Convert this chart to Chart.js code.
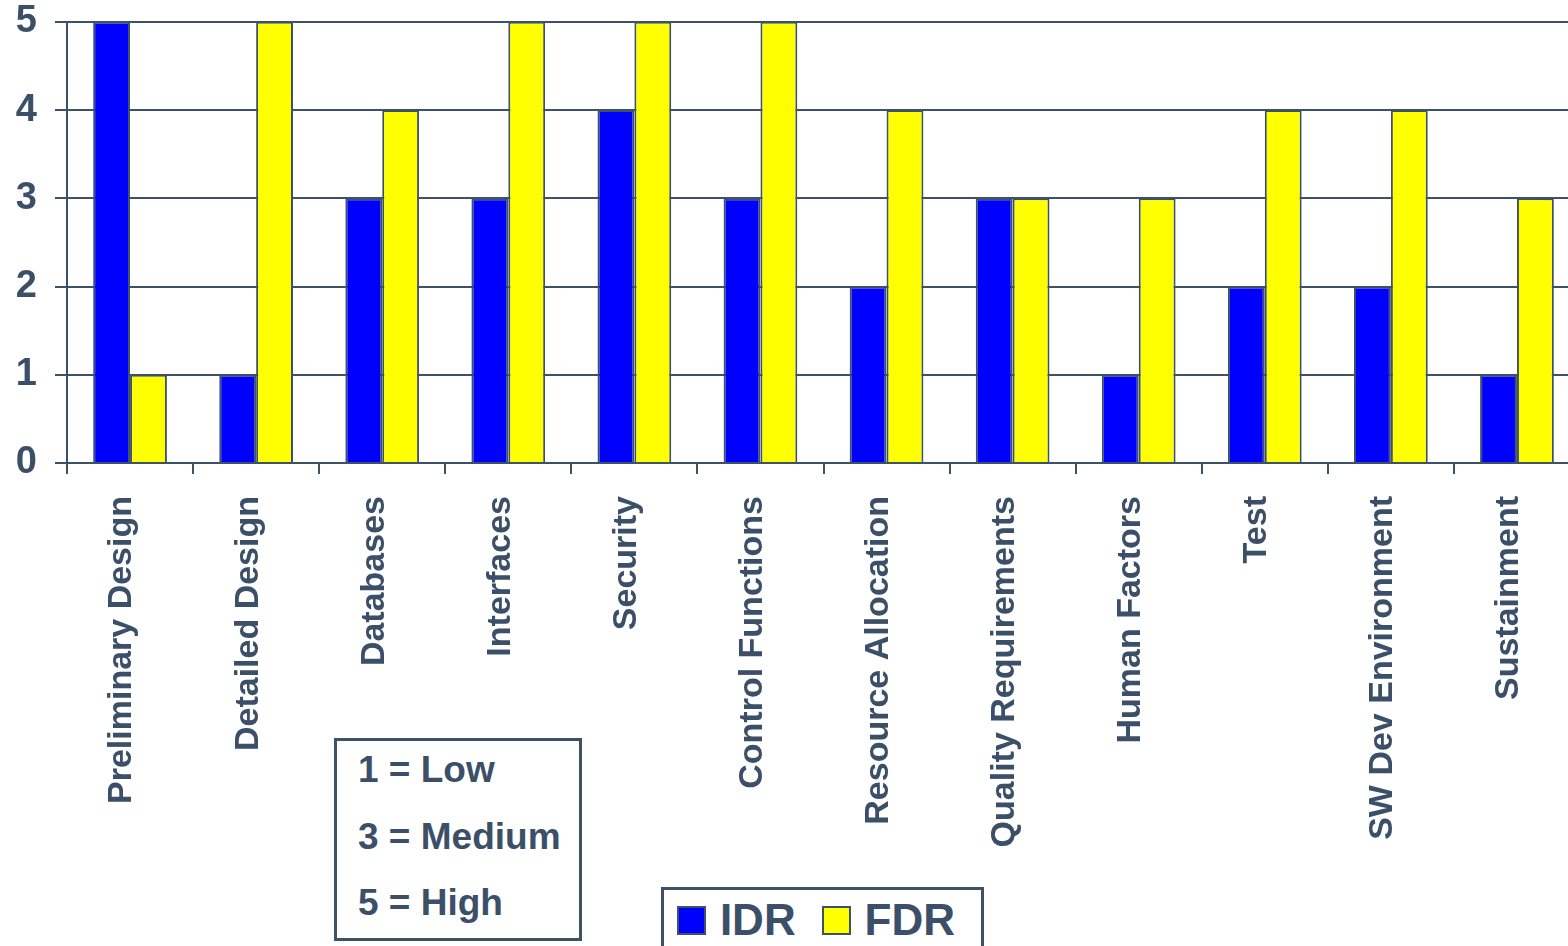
<!DOCTYPE html>
<html>
<head>
<meta charset="utf-8">
<script src="https://cdn.jsdelivr.net/npm/chart.js@4/dist/chart.umd.min.js"></script>
<style>
  body { margin: 0; overflow: hidden; background: #fff; }
  #wrap { position: relative; width: 1568px; height: 946px; overflow: hidden; }
  #chart { position: absolute; left: 0; top: -19px; }
  .box { position: absolute; border: 3px solid #3d5266; background: #fff;
         font-family: "Liberation Sans", Arial, sans-serif; font-weight: bold; color: #3b5068; }
  #key div { position: absolute; left: 21px; font-size: 37px; line-height: 37px; white-space: nowrap; }
  #legend { display: flex; }
  #legend span.sw { display: inline-block; width: 27px; height: 25px; border: 2px solid #3d5266; margin-top: 6px; }
  #legend span.tx { font-size: 44px; line-height: 40px; margin-left: 14px; margin-right: 26px; }
</style>
</head>
<body>
<div id="wrap">
  <canvas id="chart" width="1582" height="965"></canvas>
  <div id="key" class="box" style="left:334px; top:738px; width:242px; height:197px;">
    <div style="top:10px">1 = Low</div>
    <div style="top:77px">3 = Medium</div>
    <div style="top:143px">5 = High</div>
  </div>
  <div id="legend" class="box" style="left:661px; top:887px; width:323px; height:80px; padding-left:13px; box-sizing:border-box; padding-top:10px;"></div>
</div>
<script>
const categories = ['Preliminary Design', 'Detailed Design', 'Databases', 'Interfaces', 'Security',
  'Control Functions', 'Resource Allocation', 'Quality Requirements', 'Human Factors', 'Test',
  'SW Dev Environment', 'Sustainment'];
const idr = [5, 1, 3, 3, 4, 3, 2, 3, 1, 2, 2, 1];
const fdr = [1, 5, 4, 5, 5, 5, 4, 3, 3, 4, 4, 3];
const yTicks = [0, 1, 2, 3, 4, 5];

const slate = '#3d5266';
const textColor = '#3b5068';

const chart = new Chart('chart', {
  type: 'bar',
  data: {
    labels: categories,
    datasets: [
      { label: 'IDR', data: idr, backgroundColor: '#0000ff', borderColor: slate, borderWidth: 2,
        categoryPercentage: 0.585, barPercentage: 1.0 },
      { label: 'FDR', data: fdr, backgroundColor: '#ffff00', borderColor: slate, borderWidth: 2,
        categoryPercentage: 0.585, barPercentage: 1.0 },
    ],
  },
  options: {
    responsive: false,
    animation: false,
    devicePixelRatio: 1,
    layout: { padding: { top: 3, right: 2, left: 0, bottom: 0 } },
    plugins: { legend: { display: false }, tooltip: { enabled: false } },
    scales: {
      x: {
        afterFit: (s) => { s.height = 483; },
        border: { color: slate, width: 2 },
        grid: { offset: true, drawOnChartArea: false, color: slate, lineWidth: 2, tickLength: 11 },
        ticks: {
          autoSkip: false, maxRotation: 90, minRotation: 90, padding: 22, labelOffset: -8,
          color: textColor, font: { family: 'Liberation Sans', weight: 'bold', size: 34 },
        },
      },
      y: {
        min: 0, max: 5,
        afterFit: (s) => { s.width = 67; },
        afterBuildTicks: (s) => { s.ticks = yTicks.map((v) => ({ value: v })); },
        border: { color: slate, width: 2 },
        grid: { color: slate, lineWidth: 2, tickLength: 12 },
        ticks: {
          padding: 18, color: textColor,
          font: { family: 'Liberation Sans', weight: 'bold', size: 38 },
        },
      },
    },
  },
});

// legend built from the datasets
const legend = document.getElementById('legend');
chart.data.datasets.forEach((ds) => {
  const sw = document.createElement('span');
  sw.className = 'sw';
  sw.style.background = ds.backgroundColor;
  const tx = document.createElement('span');
  tx.className = 'tx';
  tx.textContent = ds.label;
  legend.appendChild(sw);
  legend.appendChild(tx);
});
</script>
</body>
</html>
